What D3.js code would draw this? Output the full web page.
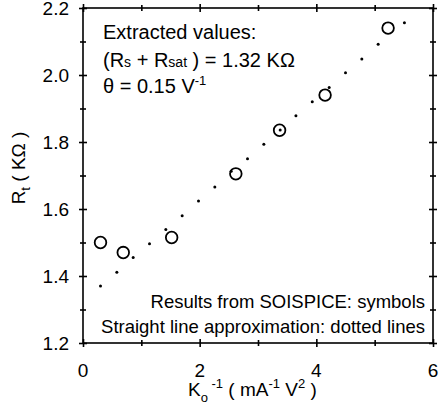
<!DOCTYPE html>
<html>
<head>
<meta charset="utf-8">
<script src="https://cdn.jsdelivr.net/npm/d3@7"></script>
<style>
  body { margin: 0; background: white; }
  svg text { font-family: "Liberation Sans", Arial, sans-serif; fill: black; }
</style>
</head>
<body>
<svg width="440" height="417"></svg>
<script>
// SOISPICE results (symbols)
var simX = [0.30, 0.69, 1.52, 2.62, 3.37, 4.15, 5.23];
var simY = [1.50, 1.47, 1.515, 1.705, 1.835, 1.94, 2.14];

// straight line approximation (dots)
var lineX = [0.30, 0.58, 0.86, 1.14, 1.42, 1.70, 1.98, 2.26, 2.54, 2.82, 3.10, 3.38, 3.65, 3.93, 4.22, 4.50, 4.78, 5.06, 5.51];
var lineY = [1.370, 1.411, 1.455, 1.496, 1.539, 1.580, 1.624, 1.666, 1.713, 1.750, 1.793, 1.836, 1.878, 1.920, 1.963, 2.007, 2.048, 2.092, 2.156];

var xMajor = [0, 2, 4, 6];
var xMinor = [1, 3, 5];
var yMajor = [1.2, 1.4, 1.6, 1.8, 2.0, 2.2];
var yMinor = [1.3, 1.5, 1.7, 1.9, 2.1];

var svg = d3.select("svg");
var m = { left: 83, right: 433, top: 8, bottom: 343 };

var x = d3.scaleLinear().domain([0, 6]).range([m.left, m.right]);
var y = d3.scaleLinear().domain([1.2, 2.2]).range([m.bottom, m.top]);

// frame
svg.append("rect")
  .attr("x", m.left).attr("y", m.top)
  .attr("width", m.right - m.left).attr("height", m.bottom - m.top)
  .style("fill", "none").style("stroke", "black").style("stroke-width", 1.6);

// ticks that cross the frame on all four sides
function crossTicks(axis, vals, len, horiz) {
  var g = svg.append("g").call(axis.tickValues(vals).tickSize(len).tickFormat(""));
  g.select(".domain").remove();
  g.selectAll(".tick line")
    .style("stroke-width", 1.6)
    .attr(horiz ? "y1" : "x1", -len)
    .attr(horiz ? "y2" : "x2", len);
  return g;
}
crossTicks(d3.axisBottom(x), xMajor, 4, true).attr("transform", "translate(0," + m.bottom + ")");
crossTicks(d3.axisBottom(x), xMinor, 3, true).attr("transform", "translate(0," + m.bottom + ")");
crossTicks(d3.axisBottom(x), xMajor, 4, true).attr("transform", "translate(0," + m.top + ")");
crossTicks(d3.axisBottom(x), xMinor, 3, true).attr("transform", "translate(0," + m.top + ")");
crossTicks(d3.axisLeft(y), yMajor, 4, false).attr("transform", "translate(" + m.left + ",0)");
crossTicks(d3.axisLeft(y), yMinor, 3, false).attr("transform", "translate(" + m.left + ",0)");
crossTicks(d3.axisLeft(y), yMajor, 4, false).attr("transform", "translate(" + m.right + ",0)");
crossTicks(d3.axisLeft(y), yMinor, 3, false).attr("transform", "translate(" + m.right + ",0)");

// tick labels
svg.append("g").selectAll("text")
  .data(xMajor)
  .enter().append("text")
  .attr("x", d => x(d))
  .attr("y", 377)
  .attr("text-anchor", "middle")
  .style("font-size", "19px")
  .text(d => d);

svg.append("g").selectAll("text")
  .data(yMajor)
  .enter().append("text")
  .attr("x", 69)
  .attr("y", d => y(d))
  .attr("dy", "0.35em")
  .attr("text-anchor", "end")
  .style("font-size", "19px")
  .text(d => d.toFixed(1));

// dotted straight line
svg.append("g").selectAll("circle")
  .data(lineX.map((d, i) => [d, lineY[i]]))
  .enter().append("circle")
  .attr("cx", d => x(d[0]))
  .attr("cy", d => y(d[1]))
  .attr("r", 1.5)
  .style("fill", "black");

// simulation symbols
svg.append("g").selectAll("circle")
  .data(simX.map((d, i) => [d, simY[i]]))
  .enter().append("circle")
  .attr("cx", d => x(d[0]))
  .attr("cy", d => y(d[1]))
  .attr("r", 5.8)
  .style("fill", "none")
  .style("stroke", "black")
  .style("stroke-width", 1.8);

// annotation, top left
var t1 = svg.append("text").attr("x", 103).attr("y", 39).style("font-size", "20px");
t1.text("Extracted values:");

var t2 = svg.append("text").attr("x", 103).attr("y", 67).style("font-size", "20px");
t2.append("tspan").text("(R");
t2.append("tspan").style("font-size", "14px").text("s");
t2.append("tspan").text(" + R");
t2.append("tspan").style("font-size", "14px").text("sat");
t2.append("tspan").text(" ) = 1.32 K\u03A9");

var t3 = svg.append("text").attr("x", 103).attr("y", 93).style("font-size", "20px");
t3.append("tspan").text("\u03B8 = 0.15 V");
t3.append("tspan").attr("dy", -8).style("font-size", "13px").text("-1");

// annotation, bottom right
svg.append("text").attr("x", 425).attr("y", 308)
  .attr("text-anchor", "end").style("font-size", "18.5px")
  .text("Results from SOISPICE: symbols");
svg.append("text").attr("x", 425).attr("y", 333)
  .attr("text-anchor", "end").style("font-size", "18.5px")
  .text("Straight line approximation: dotted lines");

// x axis title
var xt = svg.append("text").attr("x", 188).attr("y", 396).style("font-size", "19px");
xt.append("tspan").text("K");
xt.append("tspan").attr("dy", 6).style("font-size", "13px").text("o");
xt.append("tspan").attr("dy", -14).style("font-size", "13px").text(" -1");
xt.append("tspan").attr("dy", 8).text(" ( mA");
xt.append("tspan").attr("dy", -8).style("font-size", "13px").text("-1");
xt.append("tspan").attr("dy", 8).text(" V");
xt.append("tspan").attr("dy", -8).style("font-size", "13px").text("2");
xt.append("tspan").attr("dy", 8).text(" )");

// y axis title
var yt = svg.append("text")
  .attr("transform", "translate(25,168) rotate(-90)")
  .attr("text-anchor", "middle")
  .style("font-size", "19px");
yt.append("tspan").text("R");
yt.append("tspan").attr("dy", 5).style("font-size", "13px").text("t");
yt.append("tspan").attr("dy", -5).text(" ( K\u03A9 )");
</script>
</body>
</html>
